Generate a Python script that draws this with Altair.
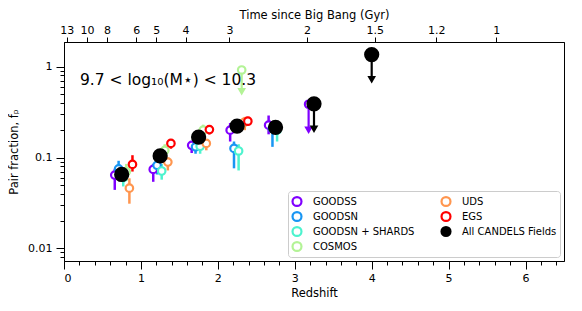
import altair as alt
import pandas as pd

FIELDS = ["GOODSS", "GOODSN", "GOODSN + SHARDS", "COSMOS", "UDS", "EGS", "All CANDELS Fields"]
COLORS = ["#8000ff", "#1996f3", "#4df3ce", "#b3f396", "#ff964f", "#ff0000", "#000000"]

# per field: redshift, pair fraction, error-bar low end, error-bar high end, upper-limit flag
goodss_z = [0.66, 1.16, 1.66, 2.16, 2.66, 3.18]
goodss_f = [0.064, 0.074, 0.136, 0.200, 0.227, 0.386]
goodss_lo = [0.044, 0.054, 0.112, 0.150, 0.180, 0.200]
goodss_hi = [0.075, 0.085, 0.150, 0.240, 0.290, 0.386]
goodss_ul = [0, 0, 0, 0, 0, 1]

goodsn_z = [0.71, 1.21, 1.71, 2.21, 2.71]
goodsn_f = [0.075, 0.082, 0.131, 0.126, 0.210]
goodsn_lo = [0.060, 0.065, 0.110, 0.076, 0.131]
goodsn_hi = [0.092, 0.095, 0.155, 0.150, 0.250]
goodsn_ul = [0, 0, 0, 0, 0]

shards_z = [0.77, 1.27, 1.77, 2.27, 2.77]
shards_f = [0.060, 0.071, 0.133, 0.118, 0.200]
shards_lo = [0.048, 0.057, 0.110, 0.072, 0.150]
shards_hi = [0.070, 0.085, 0.150, 0.140, 0.230]
shards_ul = [0, 0, 0, 0, 0]

cosmos_z = [0.81, 1.31, 1.81, 2.31]
cosmos_f = [0.070, 0.120, 0.200, 0.920]
cosmos_lo = [0.055, 0.100, 0.170, 0.530]
cosmos_hi = [0.085, 0.140, 0.230, 0.920]
cosmos_ul = [0, 0, 0, 1]

uds_z = [0.85, 1.35, 1.85, 2.35]
uds_f = [0.046, 0.089, 0.143, 0.246]
uds_lo = [0.031, 0.072, 0.120, 0.200]
uds_hi = [0.059, 0.100, 0.160, 0.280]
uds_ul = [0, 0, 0, 0]

egs_z = [0.89, 1.39, 1.89, 2.39]
egs_f = [0.084, 0.143, 0.203, 0.251]
egs_lo = [0.070, 0.125, 0.180, 0.225]
egs_hi = [0.106, 0.160, 0.225, 0.280]
egs_ul = [0, 0, 0, 0]

all_z = [0.75, 1.25, 1.75, 2.25, 2.75, 3.25, 4.0]
all_f = [0.065, 0.104, 0.168, 0.222, 0.215, 0.390, 1.36]
all_lo = [0.065, 0.104, 0.168, 0.222, 0.215, 0.205, 0.72]
all_hi = [0.065, 0.104, 0.168, 0.222, 0.215, 0.390, 1.36]
all_ul = [0, 0, 0, 0, 0, 1, 1]

# top axis: time since Big Bang (Gyr) and the redshift where each tick sits
time_labels = ["13", "10", "8", "6", "5", "4", "3", "2", "1.5", "1.2", "1"]
time_tick_z = [0.035, 0.30, 0.56, 0.94, 1.20, 1.58, 2.15, 3.16, 4.04, 4.84, 5.62]

x_major = [0, 1, 2, 3, 4, 5, 6]
x_minor = [0.2, 0.4, 0.6, 0.8, 1.2, 1.4, 1.6, 1.8, 2.2, 2.4, 2.6, 2.8, 3.2, 3.4, 3.6, 3.8,
           4.2, 4.4, 4.6, 4.8, 5.2, 5.4, 5.6, 5.8, 6.2, 6.4]
y_major = [0.01, 0.1, 1]
y_minor = [0.008, 0.009, 0.02, 0.03, 0.04, 0.05, 0.06, 0.07, 0.08, 0.09,
           0.2, 0.3, 0.4, 0.5, 0.6, 0.7, 0.8, 0.9]

ANNOT = "9.7 < log\u2081\u2080(M\u22c6) < 10.3"

series = [
    ("GOODSS", goodss_z, goodss_f, goodss_lo, goodss_hi, goodss_ul),
    ("GOODSN", goodsn_z, goodsn_f, goodsn_lo, goodsn_hi, goodsn_ul),
    ("GOODSN + SHARDS", shards_z, shards_f, shards_lo, shards_hi, shards_ul),
    ("COSMOS", cosmos_z, cosmos_f, cosmos_lo, cosmos_hi, cosmos_ul),
    ("UDS", uds_z, uds_f, uds_lo, uds_hi, uds_ul),
    ("EGS", egs_z, egs_f, egs_lo, egs_hi, egs_ul),
    ("All CANDELS Fields", all_z, all_f, all_lo, all_hi, all_ul),
]
rows = []
for name, zs, fs, los, his, uls in series:
    for z, f, lo, hi, ul in zip(zs, fs, los, his, uls):
        rows.append({"field": name, "z": z, "f": f, "lo": lo, "hi": hi, "ul": ul,
                     "is_all": int(name == "All CANDELS Fields")})
df = pd.DataFrame(rows)

fills = ["#000000" if n == "All CANDELS Fields" else "#ffffff" for n in FIELDS]

xscale = alt.Scale(domain=[0, 6.5], nice=False, zero=False)
yscale = alt.Scale(type="log", domain=[0.00725, 1.87], nice=False)
# reversed domain order so that this scale's (disabled) legend is not merged with the real one
colscale = alt.Scale(domain=FIELDS[::-1], range=COLORS[::-1])

legend = alt.Legend(title=None, orient="bottom-right", columns=2, symbolType="circle",
                    labelFont="DejaVu Sans", labelFontSize=10, labelColor="black",
                    strokeColor="#cccccc", fillColor="white", padding=3, cornerRadius=3,
                    rowPadding=0, columnPadding=25, symbolStrokeWidth=2.2, labelOffset=10,
                    offset=4, symbolSize=80, symbolOpacity=1, clipHeight=15)

main_x_axis = alt.Axis(orient="bottom", values=x_major, format="d", tickSize=8, labelPadding=3,
                       title="Redshift", titlePadding=4, grid=False)
main_y_axis = alt.Axis(orient="left", values=y_major, format="~g", tickSize=8, labelPadding=4,
                       title="Pair fraction, f\u209a", titlePadding=8, grid=False)
minor_x_axis = alt.Axis(orient="bottom", values=x_minor, labels=False, tickSize=4, domain=False,
                        title=None, grid=False)
minor_y_axis = alt.Axis(orient="left", values=y_minor, labels=False, tickSize=4, domain=False,
                        title=None, grid=False)
label_expr = "[" + ",".join("'%s'" % t for t in time_labels) + "][indexof([" + \
    ",".join(str(v) for v in time_tick_z) + "], datum.value)]"
top_axis = alt.Axis(orient="top", values=time_tick_z, labelExpr=label_expr, tickSize=5,
                    labelPadding=2, title="Time since Big Bang (Gyr)", titlePadding=4, grid=False)

base = alt.Chart(df)

err_rules = base.transform_filter("datum.is_all == 0 && datum.ul == 0").mark_rule(strokeWidth=2.5).encode(
    x=alt.X("z:Q", scale=xscale, axis=minor_x_axis),
    y=alt.Y("lo:Q", scale=yscale, axis=minor_y_axis),
    y2="hi:Q",
    color=alt.Color("field:N", scale=colscale, legend=None),
)
ul_rules = base.transform_filter("datum.ul == 1").mark_rule(strokeWidth=2.2).encode(
    x=alt.X("z:Q", scale=xscale, axis=None),
    y=alt.Y("lo:Q", scale=yscale, axis=None),
    y2="hi:Q",
    color=alt.Color("field:N", scale=colscale, legend=None),
)
ul_tri = base.transform_filter("datum.ul == 1").mark_point(
    shape="triangle-down", filled=True, size=75, opacity=1).encode(
    x=alt.X("z:Q", scale=xscale, axis=top_axis),
    y=alt.Y("lo:Q", scale=yscale, axis=None),
    color=alt.Color("field:N", scale=colscale, legend=None),
)
pts = base.mark_point(shape="circle", filled=True, strokeWidth=2.2, opacity=1).encode(
    x=alt.X("z:Q", scale=xscale, axis=main_x_axis),
    y=alt.Y("f:Q", scale=yscale, axis=main_y_axis),
    stroke=alt.Stroke("field:N", scale=alt.Scale(domain=FIELDS, range=COLORS), legend=legend),
    fill=alt.Fill("field:N", scale=alt.Scale(domain=FIELDS, range=fills), legend=legend),
    size=alt.Size("is_all:Q", scale=alt.Scale(domain=[0, 1], range=[56, 170]), legend=None),
)
annot = alt.Chart(pd.DataFrame({"t": [ANNOT]})).mark_text(
    align="left", baseline="alphabetic", fontSize=15.5, font="DejaVu Sans", color="black").encode(
    x=alt.value(16), y=alt.value(43), text="t:N")

chart = alt.layer(err_rules, ul_rules, ul_tri, pts, annot).resolve_axis(
    x="independent", y="independent"
).properties(
    width=500, height=219,
    autosize=alt.AutoSizeParams(type="none"),
    padding={"left": 56, "top": 34, "right": 10, "bottom": 42},
).configure_axis(
    labelFont="DejaVu Sans", labelFontSize=11, labelColor="black",
    titleFont="DejaVu Sans", titleFontSize=11.5, titleFontWeight="normal", titleColor="black",
    tickColor="black", domainColor="black", tickWidth=1, domainWidth=1,
).configure_view(stroke="black", strokeWidth=1)

chart.save("out.html", embed_options={"renderer": "svg", "actions": False})
